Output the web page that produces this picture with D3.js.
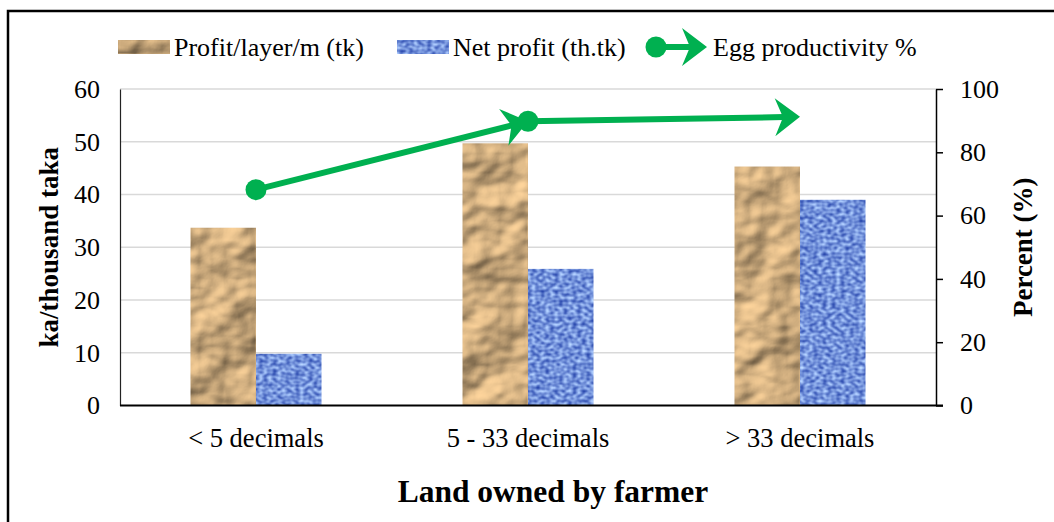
<!DOCTYPE html>
<html>
<head>
<meta charset="utf-8">
<script src="https://cdn.jsdelivr.net/npm/d3@7"></script>
<style>
  html, body { margin: 0; padding: 0; background: #fff; }
  svg { display: block; }
  text { font-family: "Liberation Serif", "Times New Roman", serif; fill: #000; }
  filter { color-interpolation-filters: sRGB; }
</style>
</head>
<body>
<svg id="chart" width="1054" height="522"></svg>
<script>
// ---- data ----
const categories = ["< 5 decimals", "5 - 33 decimals", "> 33 decimals"];
const profitPerLayer = [33.7, 49.7, 45.3];   // Profit/layer/m (tk)
const netProfit = [9.8, 25.9, 39.0];         // Net profit (th.tk)
const eggProductivity = [68.2, 89.8, 91.2];  // Egg productivity %
const leftTicks = [0, 10, 20, 30, 40, 50, 60];
const rightTicks = [0, 20, 40, 60, 80, 100];
const seriesNames = ["Profit/layer/m (tk)", "Net profit (th.tk)", "Egg productivity %"];

const svg = d3.select("#chart");
const W = 1054, H = 522;
const m = { left: 120, right: 936, top: 89, bottom: 405.5 };
const green = "#00b050";

// ---- textures ----
const defs = svg.append("defs");
const paper = defs.append("filter").attr("id", "paper")
  .attr("x", 0).attr("y", 0).attr("width", 1).attr("height", 1)
  .attr("color-interpolation-filters", "sRGB");
paper.append("feTurbulence").attr("type", "fractalNoise")
  .attr("baseFrequency", "0.02 0.026").attr("numOctaves", 3).attr("seed", 11).attr("result", "n");
const light = paper.append("feDiffuseLighting").attr("in", "n")
  .attr("surfaceScale", 7).attr("diffuseConstant", 1.12)
  .attr("lighting-color", "#e8c28e").attr("result", "l");
light.append("feDistantLight").attr("azimuth", 225).attr("elevation", 52);
paper.append("feComposite").attr("in", "l").attr("in2", "SourceGraphic").attr("operator", "in");

const weave = defs.append("filter").attr("id", "weave")
  .attr("x", 0).attr("y", 0).attr("width", 1).attr("height", 1)
  .attr("color-interpolation-filters", "sRGB");
weave.append("feTurbulence").attr("type", "fractalNoise")
  .attr("baseFrequency", "0.22 0.3").attr("numOctaves", 1).attr("seed", 3).attr("result", "n");
weave.append("feColorMatrix").attr("in", "n").attr("type", "matrix")
  .attr("values", "0.9 0 0 0 0.0  0.9 0 0 0 0.12  0.55 0 0 0 0.58  0 0 0 0 1").attr("result", "c");
weave.append("feComposite").attr("in", "c").attr("in2", "SourceGraphic").attr("operator", "in");

// ---- border ----
svg.append("path").attr("d", `M8,${H} L8,11 L${W},11`)
  .attr("fill", "none").attr("stroke", "#000").attr("stroke-width", 2.5);

// ---- scales ----
const x = d3.scaleBand().domain(categories).range([m.left, m.right]).padding(0);
const xs = d3.scaleBand().domain([0, 1]).range([0, x.bandwidth()]).paddingInner(0).paddingOuter(1.076);
const yL = d3.scaleLinear().domain([0, 60]).range([m.bottom, m.top]);
const yR = d3.scaleLinear().domain([0, 100]).range([m.bottom, m.top]);

// ---- gridlines ----
svg.append("g").selectAll("line").data(leftTicks.filter(d => d > 0)).join("line")
  .attr("x1", m.left).attr("x2", m.right)
  .attr("y1", d => yL(d)).attr("y2", d => yL(d))
  .attr("stroke", "#d9d9d9").attr("stroke-width", 1.5);

// ---- bars ----
const barData = categories.flatMap((c, i) => [
  { c, s: 0, v: profitPerLayer[i] },
  { c, s: 1, v: netProfit[i] }
]);
svg.append("g").selectAll("rect").data(barData).join("rect")
  .attr("x", d => x(d.c) + xs(d.s))
  .attr("width", xs.bandwidth())
  .attr("y", d => yL(d.v))
  .attr("height", d => yL(0) - yL(d.v))
  .attr("fill", d => d.s === 0 ? "#c09a66" : "#6d8fd0")
  .attr("filter", d => d.s === 0 ? "url(#paper)" : "url(#weave)");

// ---- axes ----
const axL = svg.append("g").attr("transform", `translate(${m.left},0)`)
  .call(d3.axisLeft(yL).tickValues(leftTicks).tickSize(0).tickPadding(20));
axL.select(".domain").attr("stroke", "#222").attr("stroke-width", 1.2);
axL.selectAll("text").attr("font-size", 26).attr("font-family", '"Liberation Serif", serif').attr("fill", "#000");

const axR = svg.append("g").attr("transform", `translate(${m.right},0)`)
  .call(d3.axisRight(yR).tickValues(rightTicks).tickSizeInner(7).tickSizeOuter(0).tickPadding(17));
axR.select(".domain").attr("stroke", "#000").attr("stroke-width", 1.5);
axR.selectAll(".tick line").attr("stroke", "#000").attr("stroke-width", 1.5);
axR.selectAll("text").attr("font-size", 26).attr("font-family", '"Liberation Serif", serif').attr("fill", "#000");

// bottom axis line
svg.append("line").attr("x1", m.left).attr("x2", m.right + 7)
  .attr("y1", yL(0)).attr("y2", yL(0)).attr("stroke", "#000").attr("stroke-width", 2);

// category labels
svg.append("g").selectAll("text").data(categories).join("text")
  .attr("x", d => x(d) + x.bandwidth() / 2).attr("y", 447)
  .attr("text-anchor", "middle").attr("font-size", 26.5).text(d => d);

// axis titles
svg.append("text").attr("transform", `translate(58,${(m.top + m.bottom) / 2}) rotate(-90)`)
  .attr("text-anchor", "middle").attr("font-size", 27).attr("font-weight", "bold").text("ka/thousand taka");
svg.append("text").attr("transform", `translate(1032,${(m.top + m.bottom) / 2}) rotate(-90)`)
  .attr("text-anchor", "middle").attr("font-size", 27).attr("font-weight", "bold").text("Percent (%)");
svg.append("text").attr("x", 553).attr("y", 502)
  .attr("text-anchor", "middle").attr("font-size", 31.5).attr("font-weight", "bold").text("Land owned by farmer");

// ---- line with arrows ----
const arrowPath = "M0,0 L-25,-19 L-17,0 L-25,19 Z";
const pts = categories.map((c, i) => [x(c) + x.bandwidth() / 2, yR(eggProductivity[i])]);
const segs = d3.pairs(pts);
const lineG = svg.append("g");
segs.forEach(([a, b]) => {
  const ang = Math.atan2(b[1] - a[1], b[0] - a[0]);
  const ex = b[0] - 16 * Math.cos(ang), ey = b[1] - 16 * Math.sin(ang);
  lineG.append("line").attr("x1", a[0]).attr("y1", a[1]).attr("x2", ex).attr("y2", ey)
    .attr("stroke", green).attr("stroke-width", 6);
  lineG.append("path").attr("d", arrowPath)
    .attr("transform", `translate(${b[0]},${b[1]}) rotate(${ang * 180 / Math.PI})`)
    .attr("fill", green);
});
lineG.selectAll("circle").data(pts.slice(0, -1)).join("circle")
  .attr("cx", d => d[0]).attr("cy", d => d[1]).attr("r", 10.5).attr("fill", green);

// ---- legend ----
const leg = svg.append("g");
const ly = 47;
leg.append("rect").attr("x", 118).attr("y", ly - 7).attr("width", 52).attr("height", 14)
  .attr("fill", "#c09a66").attr("filter", "url(#paper)");
leg.append("text").attr("x", 174).attr("y", ly + 9).attr("font-size", 26).text(seriesNames[0]);
leg.append("rect").attr("x", 397).attr("y", ly - 7).attr("width", 52).attr("height", 14)
  .attr("fill", "#6d8fd0").attr("filter", "url(#weave)");
leg.append("text").attr("x", 453).attr("y", ly + 9).attr("font-size", 26).text(seriesNames[1]);
leg.append("line").attr("x1", 656).attr("x2", 690).attr("y1", ly).attr("y2", ly)
  .attr("stroke", green).attr("stroke-width", 6);
leg.append("path").attr("d", arrowPath).attr("transform", `translate(707,${ly})`).attr("fill", green);
leg.append("circle").attr("cx", 656).attr("cy", ly).attr("r", 10.5).attr("fill", green);
leg.append("text").attr("x", 713).attr("y", ly + 9).attr("font-size", 26).text(seriesNames[2]);
</script>
</body>
</html>
